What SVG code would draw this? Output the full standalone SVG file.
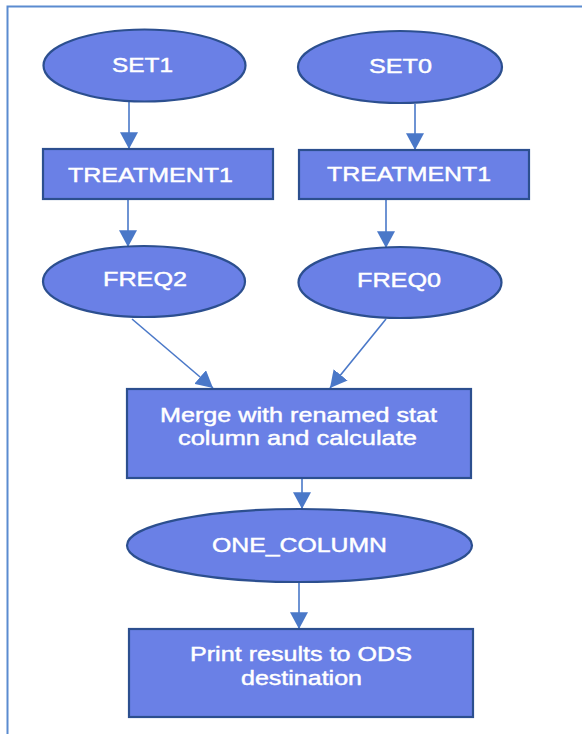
<svg xmlns="http://www.w3.org/2000/svg" width="582" height="734" viewBox="0 0 582 734">
<style>
.node{fill:#6a80e6;stroke:#2c4f8f;stroke-width:2.2}
.lbl{fill:#ffffff;stroke:#ffffff;stroke-width:0.45;font-family:"Liberation Sans",Arial,sans-serif;font-size:21px;text-anchor:middle}
.conn{stroke:#4a78c8;stroke-width:1.6;fill:none;marker-end:url(#ah)}
</style>
<defs>
<marker id="ah" markerUnits="userSpaceOnUse" markerWidth="18" markerHeight="18" viewBox="0 0 16 16" refX="15" refY="8" orient="auto">
<path d="M0,0 L15,8 L0,16 Z" fill="#4a78c8"/>
</marker>
</defs>
<rect width="582" height="734" fill="#ffffff"/>
<path d="M7.5,734 L7.5,6.5 L582,6.5" fill="none" stroke="#5b8bd0" stroke-width="2"/>
<g id="connectors">
<line class="conn" x1="129" y1="102" x2="129" y2="149"/>
<line class="conn" x1="415" y1="104" x2="415" y2="150"/>
<line class="conn" x1="128" y1="199" x2="128" y2="247"/>
<line class="conn" x1="386" y1="199" x2="386" y2="248"/>
<line class="conn" x1="132" y1="319" x2="213" y2="388"/>
<line class="conn" x1="386" y1="319" x2="330" y2="388"/>
<line class="conn" x1="302" y1="478" x2="302" y2="509"/>
<line class="conn" x1="299" y1="582" x2="299" y2="629"/>
</g>
<g id="set1"><ellipse class="node" cx="144.5" cy="65.5" rx="101" ry="36"/><text class="lbl" x="142.5" y="72" textLength="61" lengthAdjust="spacingAndGlyphs">SET1</text></g>
<g id="set0"><ellipse class="node" cx="400" cy="67" rx="102" ry="36"/><text class="lbl" x="400.5" y="73" textLength="63" lengthAdjust="spacingAndGlyphs">SET0</text></g>
<g id="treatment1a"><rect class="node" x="43" y="149" width="230" height="50"/><text class="lbl" x="150.5" y="182" textLength="165" lengthAdjust="spacingAndGlyphs">TREATMENT1</text></g>
<g id="treatment1b"><rect class="node" x="299" y="150" width="230" height="49"/><text class="lbl" x="409" y="181" textLength="164" lengthAdjust="spacingAndGlyphs">TREATMENT1</text></g>
<g id="freq2"><ellipse class="node" cx="144" cy="281.5" rx="101" ry="35.5"/><text class="lbl" x="145" y="286" textLength="84" lengthAdjust="spacingAndGlyphs">FREQ2</text></g>
<g id="freq0"><ellipse class="node" cx="400" cy="282.5" rx="101.5" ry="35.5"/><text class="lbl" x="399" y="287" textLength="84" lengthAdjust="spacingAndGlyphs">FREQ0</text></g>
<g id="merge"><rect class="node" x="127" y="389" width="344" height="89"/><text class="lbl" x="298.5" y="422" textLength="277" lengthAdjust="spacingAndGlyphs">Merge with renamed stat</text><text class="lbl" x="297.5" y="445" textLength="239" lengthAdjust="spacingAndGlyphs">column and calculate</text></g>
<g id="one_column"><ellipse class="node" cx="299.5" cy="545.5" rx="172.5" ry="36.5"/><text class="lbl" x="299.5" y="552" textLength="175" lengthAdjust="spacingAndGlyphs">ONE_COLUMN</text></g>
<g id="print"><rect class="node" x="129" y="629" width="344" height="88"/><text class="lbl" x="301" y="661" textLength="222" lengthAdjust="spacingAndGlyphs">Print results to ODS</text><text class="lbl" x="301.5" y="685" textLength="121" lengthAdjust="spacingAndGlyphs">destination</text></g>
</svg>
